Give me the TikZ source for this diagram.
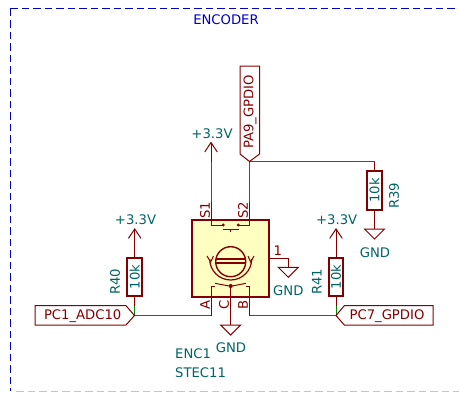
\documentclass[tikz,border=0pt]{standalone}
\usepackage{fontspec}
\setmainfont{DejaVu Sans}
\definecolor{wirec}{RGB}{0,132,0}
\definecolor{symc}{RGB}{132,0,0}
\definecolor{fillc}{RGB}{255,255,194}
\definecolor{textc}{RGB}{0,100,100}
\definecolor{framec}{RGB}{0,0,194}
\definecolor{labelc}{RGB}{132,0,0}
\tikzset{
  wire/.style={wirec,line width=1pt},
  pin/.style={symc,line width=1pt},
  body/.style={symc,line width=1.4pt},
  txt/.style={inner sep=0pt,font=\fontsize{13.2}{15}\selectfont},
  val/.style={txt,textc},
  res/.style={draw=symc,line width=2pt,minimum width=14.5pt,minimum height=38.5pt,inner sep=0pt,anchor=center},
  hier/.style={draw=symc,line width=1pt},
  border/.style={line width=1pt,dash pattern=on 7.5pt off 4pt},
}
\begin{document}
\begin{tikzpicture}[x=1pt,y=-1pt]
   \useasboundingbox (0,0) rectangle (459,392);
   \draw[border,framec] (10,8.5) -- (459,8.5);
   \draw[border,framec] (10,8.5) -- (10,391);
   \draw[border,framec!25!white] (16,391.5) -- (459,391.5);
   \node[txt,framec] (title) at (226,20) {ENCODER};
   % wires
   \coordinate (s1t) at (211,161.5);
   \coordinate (s1w) at (211,202);
   \coordinate (s2t) at (249.5,161.5);
   \coordinate (s2w) at (249.5,202);
   \coordinate (r39t) at (374.5,161.5);
   \coordinate (a) at (211,315.5);
   \coordinate (b) at (249.5,315.5);
   \coordinate (r40w) at (134.5,306);
   \coordinate (r41w) at (336,306);
   \draw[wire] (s1t) -- (s1w);
   \draw[wire] (s2t) -- (s2w);
   \draw[wire] (s2t) -- (r39t);
   \draw[wire] (r40w) -- (134.5,315.5) -- (a);
   \draw[wire] (b) -- (336,315.5) -- (r41w);
   % encoder body
   \node[draw=symc,line width=2pt,fill=fillc,minimum width=77pt,minimum height=77pt,inner sep=0pt] (enc) at (230.5,258) {};
   % switch
   \draw[pin] (s1w) -- (211,225) -- (223,225);
   \draw[pin] (s2w) -- (249.5,225) -- (238,225);
   \fill[symc] (223.3,225) circle (1.6pt) (238.3,225) circle (1.6pt);
   \draw[pin] (222.5,229.4) -- (239,229.4) (230.7,229.4) -- (230.7,232);
   % knob
   \draw[body] (230.7,261.7) circle (15pt);
   \draw[symc,line width=2.2pt] (216,259.2) -- (245.5,259.2) (216,262.6) -- (245.5,262.6);
   \draw[pin,line width=1.2pt] (209.7,259) arc(180:360:21pt);
   \draw[pin] (207,256) -- (210.7,262) -- (213.5,256);
   \draw[pin] (248,256) -- (250.7,262) -- (254,256);
   % wiper
   \draw[pin] (a) -- (211,286.7) -- (215,286.7);
   \draw[pin] (b) -- (249.5,286.7) -- (246,286.7);
   \draw[pin] (215,283.3) -- (230.7,286.3) -- (246,283.3);
   \fill[symc] (230.7,286) circle (2pt);
   % pin 1 to GND
   \draw[pin] (enc.east |- 0,258.3) -- (288.3,258.3) -- (288.3,267.3);
   \node[txt,symc] (p1) at (277.7,250.5) {1};
   % pin names
   \node[txt,symc,rotate=90] (ns1) at (205,210) {S1};
   \node[txt,symc,rotate=90] (ns2) at (243,210) {S2};
   \node[txt,symc,rotate=90] (na) at (205,305) {A};
   \node[txt,symc,rotate=90] (nc) at (224,305) {C};
   \node[txt,symc,rotate=90] (nb) at (243,305) {B};
   % gnd symbols
   \draw[pin] (278.3,267.3) -- (298.3,267.3) -- (288.3,277.3) -- cycle;
   \node[val] (g1) at (288.3,290.7) {GND};
   \draw[pin] (230.7,286) -- (230.7,325);
   \draw[pin] (220.7,325) -- (240.7,325) -- (230.7,335) -- cycle;
   \node[val] (g2) at (231,348) {GND};
   \draw[pin] (364.5,229) -- (384.5,229) -- (374.5,239) -- cycle;
   \node[val] (g3) at (375,252.7) {GND};
   % resistors
   \node[res] (r39) at (374.5,190.5) {};
   \node[val,rotate=90] (r39v) at (374.5,190.5) {10k};
   \node[val,rotate=90] (r39n) at (394,195.7) {R39};
   \node[res] (r40) at (134.7,277) {};
   \node[val,rotate=90] (r40v) at (134.7,277) {10k};
   \node[val,rotate=90] (r40n) at (115,281.7) {R40};
   \node[res] (r41) at (336,277) {};
   \node[val,rotate=90] (r41v) at (336,277) {10k};
   \node[val,rotate=90] (r41n) at (316.7,281.7) {R41};
   \draw[pin] (r39t) -- (r39.north);
   \draw[pin] (r39.south) -- (374.5,229);
   \draw[pin] (r40.south) -- (r40w);
   \draw[pin] (r41.south) -- (r41w);
   % power
   \coordinate (v1) at (211,142.5);
   \coordinate (v2) at (134.7,229);
   \coordinate (v3) at (336,229);
   \draw[pin] (s1t) -- (v1);
   \draw[pin] (204.7,152) -- (v1) -- (217.3,152);
   \node[val] (p33a) at (212,133.5) {+3.3V};
   \draw[pin] (r40.north) -- (v2);
   \draw[pin] (128.4,238.4) -- (v2) -- (141,238.4);
   \node[val] (p33b) at (135.5,219.5) {+3.3V};
   \draw[pin] (r41.north) -- (v3);
   \draw[pin] (329.7,238.4) -- (v3) -- (342.3,238.4);
   \node[val] (p33c) at (336.7,219.5) {+3.3V};
   % hier labels
   \draw[hier] (35,305.7) -- (126,305.7) -- (134.5,315.5) -- (126,325) -- (35,325) -- cycle;
   \node[txt,labelc] (lab1) at (82.7,316) {PC1\_ADC10};
   \draw[hier] (336,315.5) -- (344.3,305.7) -- (433,305.7) -- (433,325) -- (344.3,325) -- cycle;
   \node[txt,labelc] (lab2) at (387,316) {PC7\_GPDIO};
   \draw[hier] (240,66) -- (259.5,66) -- (259.5,154) -- (249.5,161.5) -- (240,154) -- cycle;
   \node[txt,labelc,rotate=90] (lab3) at (250,111.7) {PA9\_GPDIO};
   \node[val,anchor=west] (enc1) at (175,354) {ENC1};
   \node[val,anchor=west] (stec) at (175,372.7) {STEC11};
\end{tikzpicture}
\end{document}
